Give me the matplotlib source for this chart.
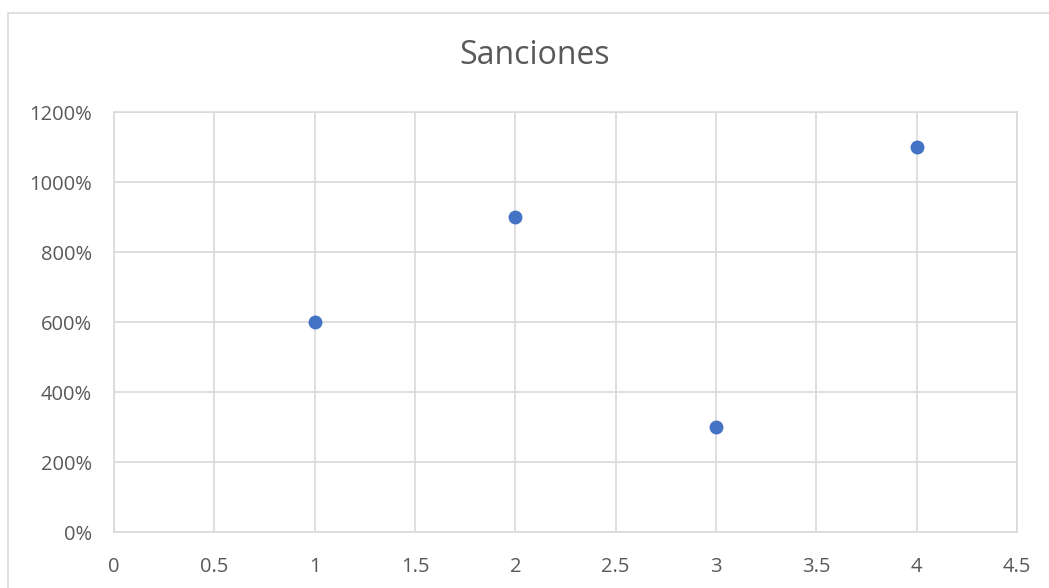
import matplotlib.pyplot as plt
from matplotlib.ticker import FuncFormatter
from matplotlib.patches import Rectangle

plt.rcParams['font.family'] = ['Open Sans', 'DejaVu Sans']

# Sanciones por periodo
periodos = [1, 2, 3, 4]
sanciones = [6.0, 9.0, 3.0, 11.0]

grid_color = '#d9d9d9'
text_color = '#595959'

fig = plt.figure(figsize=(10.49, 5.88), dpi=100)
ax = fig.add_axes([114 / 1049, 1 - 532 / 588, (1017 - 114) / 1049, (532 - 112) / 588])

ax.scatter(periodos, sanciones, s=100, color='#4472C4', zorder=3, linewidths=0)

ax.set_xlim(0, 4.5)
ax.set_ylim(0, 12)
ax.set_xticks([0, 0.5, 1, 1.5, 2, 2.5, 3, 3.5, 4, 4.5])
ax.set_yticks(range(0, 13, 2))
ax.xaxis.set_major_formatter(FuncFormatter(lambda v, p: f'{v:g}'))
ax.yaxis.set_major_formatter(FuncFormatter(lambda v, p: f'{v * 100:.0f}%'))

ax.grid(True, color=grid_color, linewidth=1.2)
ax.set_axisbelow(True)
for s in ax.spines.values():
    s.set_color(grid_color)
    s.set_linewidth(1.2)
ax.tick_params(length=0, labelsize=14.5, colors=text_color)
ax.tick_params(axis='x', pad=18)
ax.tick_params(axis='y', pad=16)

fig.text(535 / 1049, 1 - 56 / 588, 'Sanciones', ha='center', va='center',
         fontsize=23, color=text_color)

# chart frame
fig.patches.append(Rectangle((8 / 1049, -0.05), 1.1, 1 - 12.5 / 588 + 0.05,
                             transform=fig.transFigure, fill=False,
                             edgecolor=grid_color, linewidth=1.2))

fig.savefig('out.png', dpi=100)
